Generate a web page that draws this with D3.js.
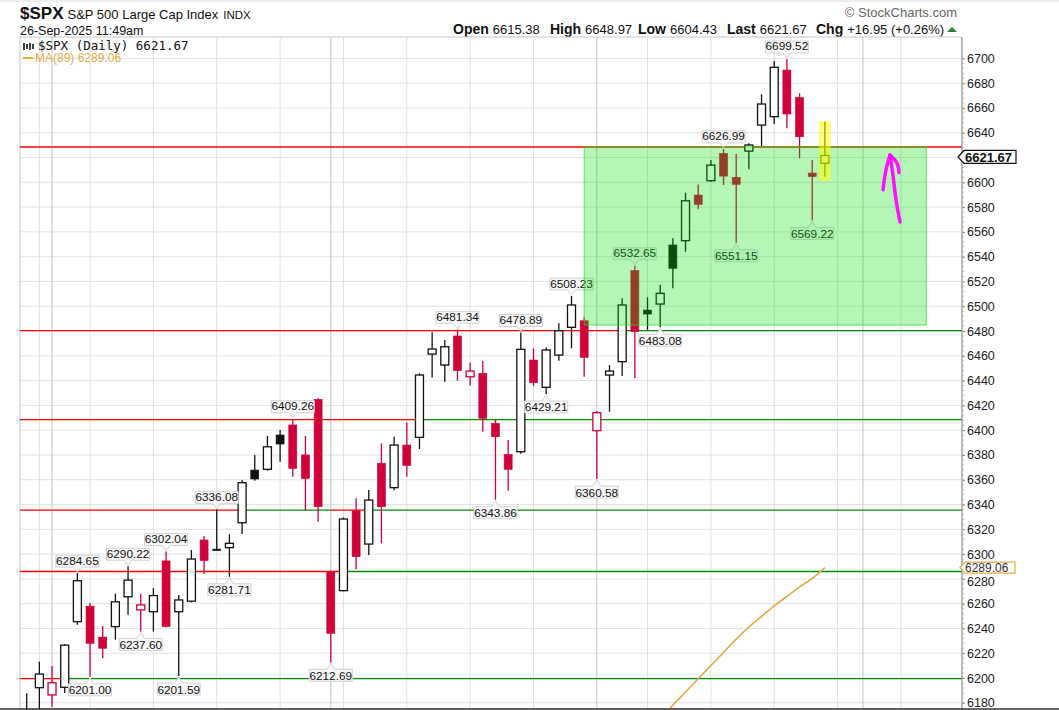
<!DOCTYPE html>
<html>
<head>
<meta charset="utf-8">
<script src="https://cdn.jsdelivr.net/npm/d3@7"></script>
<style>
  body { margin: 0; background: #fff; }
  svg { display: block; font-family: "Liberation Sans", Arial, sans-serif; }
</style>
</head>
<body>
<svg id="chart" width="1059" height="710"></svg>
<script>
// trading days shown (Jun 27 - Sep 26, 2025) plus the empty days to the right
const dates = [
  '2025-06-27', '2025-06-30',
  '2025-07-01', '2025-07-02', '2025-07-03', '2025-07-07', '2025-07-08', '2025-07-09', '2025-07-10', '2025-07-11',
  '2025-07-14', '2025-07-15', '2025-07-16', '2025-07-17', '2025-07-18', '2025-07-21', '2025-07-22', '2025-07-23',
  '2025-07-24', '2025-07-25', '2025-07-28', '2025-07-29', '2025-07-30', '2025-07-31',
  '2025-08-01', '2025-08-04', '2025-08-05', '2025-08-06', '2025-08-07', '2025-08-08', '2025-08-11', '2025-08-12',
  '2025-08-13', '2025-08-14', '2025-08-15', '2025-08-18', '2025-08-19', '2025-08-20', '2025-08-21', '2025-08-22',
  '2025-08-25', '2025-08-26', '2025-08-27', '2025-08-28', '2025-08-29',
  '2025-09-02', '2025-09-03', '2025-09-04', '2025-09-05', '2025-09-08', '2025-09-09', '2025-09-10', '2025-09-11',
  '2025-09-12', '2025-09-15', '2025-09-16', '2025-09-17', '2025-09-18', '2025-09-19', '2025-09-22', '2025-09-23',
  '2025-09-24', '2025-09-25', '2025-09-26'
]
const futureDates = [
  '2025-09-29', '2025-09-30', '2025-10-01', '2025-10-02', '2025-10-03',
  '2025-10-06', '2025-10-07', '2025-10-08', '2025-10-09', '2025-10-10'
]

const opens = [
  6150.7, 6192.2, 6186.3, 6192.5, 6245.5, 6258.0, 6233.0, 6241.5, 6265.5, 6255.0,
  6253.5, 6294.5, 6253.5, 6262.0, 6311.4, 6304.0, 6305.2, 6325.3, 6367.8, 6368.4,
  6396.1, 6404.2, 6380.0, 6424.8, 6285.8, 6270.5, 6335.0, 6308.1, 6373.3, 6353.6,
  6388.0, 6394.2, 6461.4, 6452.6, 6476.0, 6443.1, 6445.9, 6405.5, 6380.5, 6382.6,
  6456.6, 6434.6, 6460.6, 6483.0, 6488.3, 6399.6, 6444.5, 6455.3, 6528.7, 6496.9,
  6501.8, 6549.4, 6552.9, 6589.7, 6601.3, 6623.3, 6604.0, 6625.2, 6646.2, 6653.0,
  6690.6, 6668.4, 6607.5, 6615.38
]
const highs = [
  6187.7, 6213.2, 6209.7, 6227.5, 6284.65, 6260.5, 6242.0, 6268.0, 6290.22, 6268.0,
  6272.5, 6302.04, 6267.0, 6303.3, 6314.6, 6336.08, 6316.0, 6359.8, 6380.0, 6395.3,
  6400.1, 6409.26, 6395.3, 6425.7, 6287.0, 6329.6, 6345.0, 6351.7, 6389.4, 6394.7,
  6406.1, 6445.9, 6479.0, 6472.7, 6481.34, 6454.4, 6455.8, 6408.2, 6392.0, 6478.89,
  6466.0, 6466.8, 6486.2, 6508.23, 6491.5, 6415.5, 6452.6, 6506.4, 6532.65, 6507.2,
  6517.1, 6554.8, 6591.6, 6598.3, 6618.0, 6626.99, 6622.8, 6631.5, 6671.0, 6697.9,
  6699.52, 6671.8, 6618.0, 6648.97
]
const lows = [
  6132.4, 6175.0, 6176.8, 6188.0, 6243.0, 6201.00, 6216.0, 6231.0, 6251.0, 6237.60,
  6237.5, 6241.0, 6201.59, 6261.0, 6284.0, 6302.5, 6281.71, 6316.2, 6359.2, 6367.3,
  6374.5, 6362.4, 6335.6, 6326.1, 6212.69, 6270.0, 6287.7, 6299.3, 6308.7, 6351.5,
  6362.4, 6384.8, 6442.6, 6439.1, 6439.9, 6435.9, 6398.7, 6343.86, 6351.1, 6381.0,
  6435.6, 6429.21, 6456.0, 6466.0, 6443.1, 6360.58, 6414.9, 6443.7, 6441.8, 6481.0,
  6483.08, 6514.5, 6544.0, 6578.2, 6600.5, 6597.8, 6551.15, 6610.5, 6629.3, 6647.0,
  6643.6, 6619.4, 6569.22, 6604.43
]
const closes = [
  6173.1, 6203.2, 6196.2, 6226.5, 6278.5, 6228.0, 6224.0, 6261.5, 6279.0, 6259.0,
  6266.5, 6241.5, 6263.0, 6296.0, 6294.8, 6302.8, 6308.7, 6357.6, 6360.6, 6386.6,
  6388.8, 6369.2, 6361.1, 6338.2, 6236.1, 6328.3, 6297.9, 6343.6, 6338.2, 6388.0,
  6371.5, 6444.5, 6465.5, 6467.3, 6448.0, 6447.7, 6409.6, 6394.7, 6368.4, 6465.2,
  6438.3, 6464.7, 6480.2, 6501.0, 6458.8, 6414.1, 6447.7, 6501.0, 6479.5, 6493.7,
  6510.4, 6530.6, 6585.1, 6582.2, 6613.9, 6605.0, 6598.4, 6630.1, 6663.2, 6692.8,
  6655.1, 6636.8, 6604.72, 6621.67
]
const prevClose0 = 6141.0

// MA(89), only the part that rises into view (index 50 onwards)
const maStart = 50
const ma89 = [6167.3, 6178.1, 6188.7, 6199.4, 6210.1, 6220.7, 6231.4, 6241.1, 6249.7, 6258.3, 6265.8, 6273.5, 6280.3, 6289.06]

// candles carrying a price flag
const highFlags = [4, 8, 11, 15, 21, 34, 39, 43, 48, 55, 60]
const lowFlags = [5, 9, 12, 16, 24, 37, 41, 45, 50, 56, 62]

// hand drawn annotations (price levels and where each colour runs, in day index)
const levelPrices = [6628.5, 6480.3, 6408.5, 6335.5, 6286.0, 6199.5]
const levelSegments = [
  [0, 'red', null, null],
  [1, 'red', null, 46.9], [1, 'green', 46.9, null],
  [2, 'red', null, 31.0], [2, 'green', 31.0, null],
  [3, 'red', null, 16.8], [3, 'green', 16.8, 24.0], [3, 'red', 24.0, 26.9], [3, 'green', 26.9, null],
  [4, 'red', null, 25.0], [4, 'green', 25.0, null],
  [5, 'red', null, 2.9], [5, 'green', 2.9, null]
]
const zoneDays = [44, 71]
const zonePrices = [6628.7, 6484.8]
const highlightDay = 63
const highlightPrices = [6649.5, 6601.3]
const arrowShaft = [[68.14, 6622], [68.37, 6606], [68.61, 6586], [68.93, 6568]]
const arrowLeft = [[68.14, 6622], [67.82, 6610], [67.59, 6594]]
const arrowRight = [[68.14, 6622], [68.69, 6615.5], [68.85, 6608]]

const yTicks = d3.range(6180, 6701, 20)
const quote = [['Open', '6615.38'], ['High', '6648.97'], ['Low', '6604.43'], ['Last', '6621.67'], ['Chg', '+16.95 (+0.26%)']]

const plot = { left: 20, right: 962, top: 37, bottom: 709 }
const colors = { up: '#111', down: '#d0003a', red: '#ff0000', green: '#0a8a0a', ma: '#e3ab45' }

const svg = d3.select('#chart')

const x = d3.scaleLinear().domain([0, 63]).range([26.7, 824.9])
const y = d3.scaleLinear().domain([6180, 6700]).range([702.8, 58.4])

svg.append('defs').append('clipPath').attr('id', 'plotClip')
  .append('rect')
  .attr('x', plot.left).attr('y', plot.top)
  .attr('width', plot.right - plot.left).attr('height', plot.bottom - plot.top)

// header
svg.append('line').attr('x1', 0).attr('x2', 1059).attr('y1', 1).attr('y2', 1).attr('stroke', '#ddd')
const title = svg.append('text').attr('x', 20).attr('y', 19).attr('fill', '#111')
title.append('tspan').attr('font-weight', 'bold').attr('font-size', 17).text('$SPX')
title.append('tspan').attr('dx', 4).attr('font-size', 13).text('S&P 500 Large Cap Index')
title.append('tspan').attr('dx', 5).attr('font-size', 11.5).text('INDX')
svg.append('text').attr('x', 20).attr('y', 35).attr('font-size', 12.5).attr('fill', '#111')
  .text('26-Sep-2025 11:49am')
svg.append('text').attr('x', 957).attr('y', 17).attr('text-anchor', 'end')
  .attr('font-size', 13).attr('fill', '#666').text('© StockCharts.com')

// quote line, one group per field
const quoteX = [453, 550, 638, 727, 816]
quote.forEach((q, i) => {
  const t = svg.append('text').attr('x', quoteX[i]).attr('y', 34).attr('font-size', 13).attr('fill', '#111')
  t.append('tspan').attr('font-weight', 'bold').attr('font-size', 14).text(q[0])
  t.append('tspan').attr('dx', 4).text(q[1])
})
svg.append('path').attr('d', 'M947,32 L952,27 L957,32 Z').attr('fill', '#2e7d32')

// frame
svg.append('rect').attr('x', plot.left).attr('y', plot.top)
  .attr('width', plot.right - plot.left).attr('height', plot.bottom - plot.top)
  .attr('fill', '#fff').attr('stroke', '#c8c8c8')

// grid
const allDates = dates.concat(futureDates).map((d) => new Date(d + 'T12:00:00'))
const grid = svg.append('g').attr('clip-path', 'url(#plotClip)')
grid.selectAll('line.h').data(yTicks).join('line').attr('class', 'h')
  .attr('x1', plot.left).attr('x2', plot.right)
  .attr('y1', (d) => y(d)).attr('y2', (d) => y(d))
  .attr('stroke', '#e3e3e3')
const vLines = []
allDates.forEach((d, i) => {
  if (i === 0) return
  const prev = allDates[i - 1]
  const month = d.getMonth() !== prev.getMonth()
  const week = d.getDay() < prev.getDay()
  if (month || week) vLines.push({ i, month })
})
grid.selectAll('line.v').data(vLines).join('line').attr('class', 'v')
  .attr('x1', (d) => x(d.i)).attr('x2', (d) => x(d.i))
  .attr('y1', plot.top).attr('y2', plot.bottom)
  .attr('stroke', (d) => (d.month ? '#c4c4c4' : '#e0e0e0'))

// drawn price levels
const xl = x.invert(plot.left)
const xr = x.invert(plot.right)
grid.selectAll('line.level').data(levelSegments).join('line').attr('class', 'level')
  .attr('x1', (d) => x(d[2] === null ? xl : d[2]))
  .attr('x2', (d) => x(d[3] === null ? xr : d[3]))
  .attr('y1', (d) => y(levelPrices[d[0]])).attr('y2', (d) => y(levelPrices[d[0]]))
  .attr('stroke', (d) => colors[d[1]]).attr('stroke-width', 1.4)

// candles
const candles = closes.map((c, i) => {
  const prev = i ? closes[i - 1] : prevClose0
  return { i, o: opens[i], h: highs[i], l: lows[i], c, color: c >= prev ? colors.up : colors.down, filled: c < opens[i] }
})
const cg = svg.append('g').attr('clip-path', 'url(#plotClip)')
const bw = 8
const cs = cg.selectAll('g.candle').data(candles).join('g').attr('class', 'candle')
cs.append('line')
  .attr('x1', (d) => x(d.i)).attr('x2', (d) => x(d.i))
  .attr('y1', (d) => y(d.h)).attr('y2', (d) => y(d.l))
  .attr('stroke', (d) => d.color).attr('stroke-width', 1.3)
cs.append('rect')
  .attr('x', (d) => x(d.i) - bw / 2)
  .attr('y', (d) => y(Math.max(d.o, d.c)))
  .attr('width', bw)
  .attr('height', (d) => Math.max(1.5, Math.abs(y(d.o) - y(d.c))))
  .attr('fill', (d) => (d.filled ? d.color : '#fff'))
  .attr('stroke', (d) => d.color).attr('stroke-width', (d) => (d.filled ? 0.6 : 1.3))

// price flags
function flagPath(cx, tip, up) {
  const w = 43, h = 12, gap = 6
  if (up) {
    const b = tip - gap, t = b - h
    return `M${cx - w / 2},${t}H${cx + w / 2}V${b}H${cx + 4}L${cx},${tip - 1}L${cx - 4},${b}H${cx - w / 2}Z`
  }
  const t = tip + gap + 1, b = t + h
  return `M${cx - w / 2},${t}H${cx - 4}L${cx},${tip + 1}L${cx + 4},${t}H${cx + w / 2}V${b}H${cx - w / 2}Z`
}
const flags = highFlags.map((i) => ({ i, v: highs[i], up: true }))
  .concat(lowFlags.map((i) => ({ i, v: lows[i], up: false })))
const fg = svg.append('g').selectAll('g').data(flags).join('g')
fg.append('path')
  .attr('d', (d) => flagPath(x(d.i), y(d.v), d.up))
  .attr('fill', '#f7f7f7').attr('stroke', '#d2d2d2')
fg.append('text')
  .attr('x', (d) => x(d.i))
  .attr('y', (d) => (d.up ? y(d.v) - 8.5 : y(d.v) + 17.5))
  .attr('text-anchor', 'middle').attr('font-size', 11.8).attr('fill', '#111')
  .text((d) => d3.format('.2f')(d.v))

// moving average
const maLine = d3.line().x((d, k) => x(maStart + k)).y((d) => y(d)).curve(d3.curveMonotoneX)
cg.append('path').datum(ma89).attr('d', maLine)
  .attr('fill', 'none').attr('stroke', colors.ma).attr('stroke-width', 1.6)

// green zone and yellow highlight
svg.append('rect')
  .attr('x', x(zoneDays[0])).attr('y', y(zonePrices[0]))
  .attr('width', x(zoneDays[1]) - x(zoneDays[0])).attr('height', y(zonePrices[1]) - y(zonePrices[0]))
  .attr('fill', 'rgba(0,220,0,0.29)').attr('stroke', 'rgba(40,220,40,0.7)').attr('stroke-width', 1)
svg.append('rect')
  .attr('x', x(highlightDay - 0.45)).attr('y', y(highlightPrices[0]))
  .attr('width', x(highlightDay + 0.45) - x(highlightDay - 0.45))
  .attr('height', y(highlightPrices[1]) - y(highlightPrices[0]))
  .attr('fill', 'rgba(255,255,0,0.55)')

// magenta arrow
const pen = d3.line().x((d) => x(d[0])).y((d) => y(d[1])).curve(d3.curveCatmullRom)
svg.append('g').selectAll('path').data([arrowShaft, arrowLeft, arrowRight]).join('path')
  .attr('d', pen).attr('fill', 'none').attr('stroke', '#ff10ff')
  .attr('stroke-width', 3.5).attr('stroke-linecap', 'round').attr('stroke-linejoin', 'round')

// y axis (the 6620 label sits under the last-price tag, as in the source)
const yAxis = d3.axisRight(y).tickValues(yTicks).tickSize(3).tickPadding(2)
  .tickFormat((d) => (d === 6620 ? '' : d3.format('d')(d)))
const ax = svg.append('g').attr('transform', `translate(${plot.right},0)`).call(yAxis)
ax.select('.domain').attr('stroke', '#999').attr('d', `M0,${plot.top}V${plot.bottom}`)
ax.selectAll('.tick line').attr('stroke', '#888')
ax.selectAll('.tick text').attr('font-size', 12.5).attr('fill', '#222')
  .attr('font-family', '"Liberation Sans", Arial, sans-serif')
// the 6280 label peeks out just below the MA tag
ax.selectAll('.tick text').filter((d) => d === 6280).attr('dy', '0.55em')
svg.append('g').selectAll('line').data(d3.range(6180, 6701, 4)).join('line')
  .attr('x1', plot.right).attr('x2', plot.right + 2)
  .attr('y1', (d) => y(d)).attr('y2', (d) => y(d)).attr('stroke', '#aaa').attr('stroke-width', 0.8)

// value tags on the axis
const lastY = y(closes[closes.length - 1]) + 1.5
svg.append('path')
  .attr('d', `M958,${lastY} L964,${lastY - 6.5} H1016 V${lastY + 6.5} H964 Z`)
  .attr('fill', '#fff').attr('stroke', '#111').attr('stroke-width', 1.2)
svg.append('text').attr('x', 965).attr('y', lastY + 5).attr('font-size', 13).attr('font-weight', 'bold')
  .attr('fill', '#111').text(d3.format('.2f')(closes[closes.length - 1]))
const maY = y(ma89[ma89.length - 1])
svg.append('path')
  .attr('d', `M960,${maY} L965,${maY - 5.5} H1015 V${maY + 5.5} H965 Z`)
  .attr('fill', '#fff').attr('stroke', colors.ma).attr('stroke-width', 1.2)
svg.append('text').attr('x', 965).attr('y', maY + 4.2).attr('font-size', 12)
  .attr('fill', '#333').text(d3.format('.2f')(ma89[ma89.length - 1]))

// legend
const lg = svg.append('g')
lg.append('path').attr('d', 'M24,43V50M27,44V49M30,43V50M33,44V49').attr('stroke', '#111').attr('stroke-width', 1.6)
lg.append('text').attr('x', 38).attr('y', 50).attr('font-family', '"DejaVu Sans Mono", monospace')
  .attr('font-size', 12.5).attr('fill', '#111')
  .text(`$SPX (Daily) ${d3.format('.2f')(closes[closes.length - 1])}`)
lg.append('line').attr('x1', 23).attr('x2', 33).attr('y1', 58).attr('y2', 58)
  .attr('stroke', colors.ma).attr('stroke-width', 2)
lg.append('text').attr('x', 35).attr('y', 62).attr('font-size', 12).attr('fill', colors.ma)
  .text(`MA(89) ${d3.format('.2f')(ma89[ma89.length - 1])}`)

// bottom edge
svg.append('line').attr('x1', 0).attr('x2', 1059).attr('y1', 709).attr('y2', 709)
  .attr('stroke', '#333').attr('stroke-width', 1.5)
</script>
</body>
</html>
